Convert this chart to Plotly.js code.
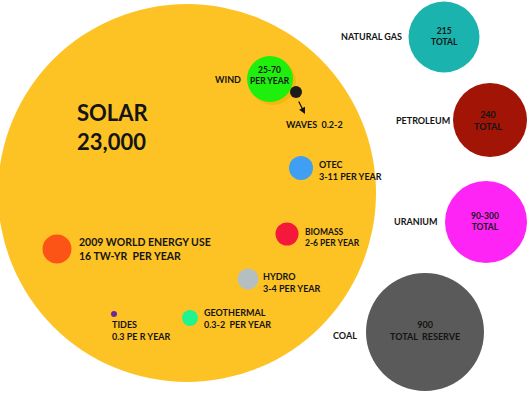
<!DOCTYPE html>
<html>
<head>
  <title>Energy reserves bubbles</title>
<script src="https://cdn.jsdelivr.net/npm/plotly.js-dist@3.0.1/plotly.min.js"></script>
<style>body{margin:0;background:#fff}</style>
</head>
<body>
  <div id="graph" style="width:529px;height:393px"></div>
  <script>
    // sources and their amounts (TW-yr), as printed on the chart
    const names   = ['SOLAR', 'WIND', 'WAVES', 'OTEC', 'BIOMASS', 'HYDRO', 'GEOTHERMAL', 'TIDES',
                     '2009 WORLD ENERGY USE', 'NATURAL GAS', 'PETROLEUM', 'URANIUM', 'COAL'];
    const amounts = ['23,000', '25-70', '0.2-2', '3-11', '2-6', '3-4', '0.3-2', '0.3',
                     '16', '215', '240', '90-300', '900'];

    // bubble centres and diameters (pixels)
    const bubbleX    = [187, 270, 296, 301, 287, 248, 190, 114, 57, 444, 490, 486, 425];
    const bubbleY    = [193, 79, 92, 168, 234, 279, 318, 314, 249, 37, 120, 222, 332];
    const bubbleDiam = [378, 46, 12, 24, 23, 21, 16, 6, 29, 71, 74, 82, 118];
    const colors = ['#FDC325', '#1FEF0C', '#1C1C1C', '#3F9FF2', '#F4183B', '#B5BEC0', '#20F48E',
                    '#6B2A9C', '#FC5416', '#1BB3AE', '#A11406', '#FF24F6', '#5A5A5A'];

    const ink = '#141414';
    // helper for a (possibly multi-line) label
    function lbl(lines, x, y, anchor, size) {
      return {
        text: [].concat(lines).join('<br>'), x: x, y: y, xref: 'x', yref: 'y',
        xanchor: anchor || 'left', yanchor: 'middle', align: anchor || 'left',
        showarrow: false, borderpad: 0,
        font: { family: 'Lato, "DejaVu Sans", sans-serif', size: size || 9, color: ink, weight: 'bold' }
      };
    }

    const annotations = [
      lbl([names[0], amounts[0]], 76, 127, 'left', 22),
      lbl(names[1], 214, 79),
      lbl([amounts[1], 'PER YEAR'], 270, 75, 'center', 8.5),
      lbl(names[2] + '&nbsp; ' + amounts[2], 285, 124),
      lbl([names[3], amounts[3] + ' PER YEAR'], 318, 170),
      lbl([names[4], amounts[4] + ' PER YEAR'], 304, 237, 'left', 8.5),
      lbl([names[5], amounts[5] + ' PER YEAR'], 262, 282),
      lbl([names[6], amounts[6] + '&nbsp; PER YEAR'], 203, 318),
      lbl([names[7], amounts[7] + ' PE R YEAR'], 111, 330),
      lbl([names[8], amounts[8] + ' TW-YR&nbsp; PER YEAR'], 78, 248.5, 'left', 10.5),
      lbl(names[9], 340, 36),
      lbl([amounts[9], 'TOTAL'], 444, 36.5, 'center', 8.5),
      lbl(names[10], 395, 120),
      lbl([amounts[10], 'TOTAL'], 488, 120.5, 'center'),
      lbl(names[11], 393, 221),
      lbl([amounts[11], 'TOTAL'], 485, 221.5, 'center', 8.5),
      lbl(names[12], 332, 335),
      lbl([amounts[12], 'TOTAL&nbsp; RESERVE'], 425, 330, 'center'),
      // arrow from the waves dot to its label
      {
        x: 305, y: 114, ax: 298, ay: 100, xref: 'x', yref: 'y', axref: 'x', ayref: 'y',
        text: '', showarrow: true, arrowhead: 2, arrowsize: 1, arrowwidth: 1.3, arrowcolor: ink
      }
    ];

    function bubbles(idx, colorOverride, dx, dy) {
      return {
        type: 'scatter', mode: 'markers', hoverinfo: 'text',
        x: idx.map(i => bubbleX[i] + (dx || 0)),
        y: idx.map(i => bubbleY[i] + (dy || 0)),
        text: idx.map(i => names[i]),
        marker: {
          size: idx.map(i => bubbleDiam[i]),
          color: idx.map(i => colorOverride || colors[i]),
          opacity: 1, line: { width: 0 }
        }
      };
    }

    const data = [
      bubbles([0]),                      // solar
      bubbles([1], '#F4B70C', 3, 3),     // faint shadow under wind
      bubbles([1, 2, 3, 4, 5, 6, 7, 8, 9, 10, 11, 12])
    ];

    const layout = {
      width: 529, height: 393,
      margin: { l: 0, r: 0, t: 0, b: 0 },
      paper_bgcolor: '#fff', plot_bgcolor: '#fff',
      showlegend: false,
      xaxis: { range: [0, 529], visible: false, fixedrange: true },
      yaxis: { range: [393, 0], visible: false, fixedrange: true },
      annotations: annotations
    };

    Plotly.newPlot('graph', data, layout, { displayModeBar: false, staticPlot: true });
  </script>
</body>
</html>
